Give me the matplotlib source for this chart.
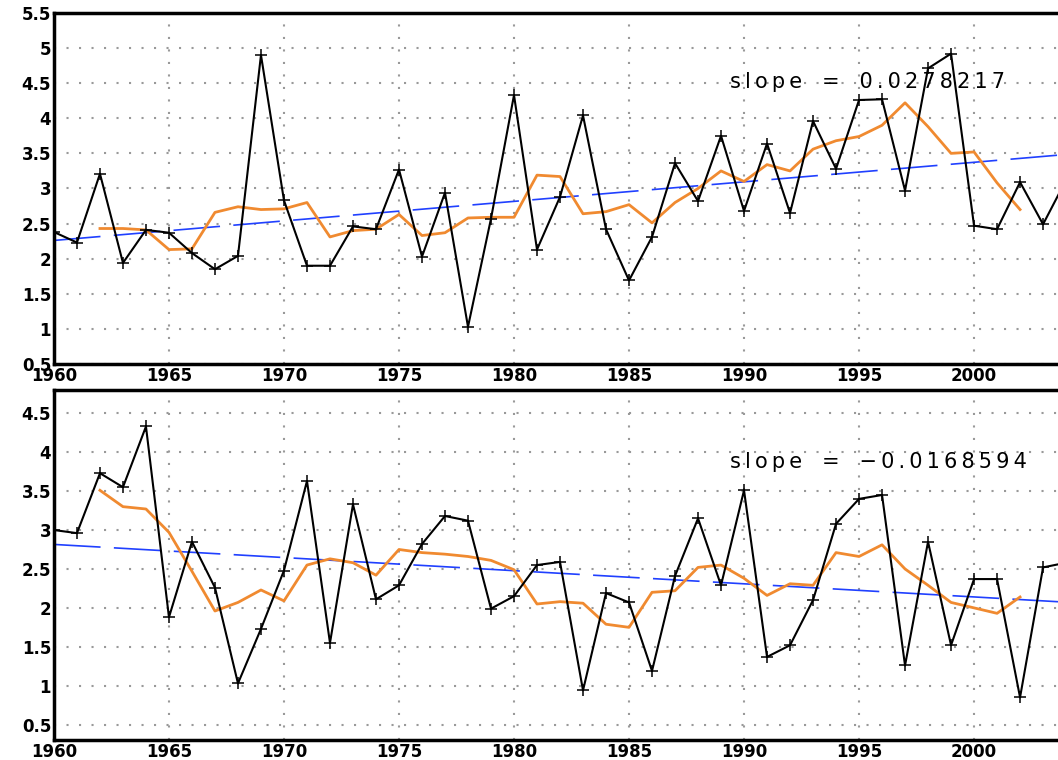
import numpy as np
import matplotlib.pyplot as plt

years = np.arange(1960, 2005)
run_years = np.arange(1962, 2003)

# upper panel
top_vals = [2.38, 2.23, 3.21, 1.94, 2.41, 2.37, 2.08, 1.85, 2.04, 4.90,
            2.83, 1.90, 1.90, 2.46, 2.42, 3.27, 2.03, 2.94, 1.03, 2.57,
            4.33, 2.13, 2.88, 4.04, 2.42, 1.69, 2.31, 3.36, 2.82, 3.75,
            2.68, 3.64, 2.65, 3.96, 3.28, 4.26, 4.27, 2.97, 4.71, 4.92,
            2.47, 2.42, 3.09, 2.49, 3.12]
top_run = [2.43, 2.43, 2.41, 2.13, 2.14, 2.66, 2.74, 2.70, 2.71, 2.80,
           2.31, 2.40, 2.42, 2.63, 2.33, 2.37, 2.58, 2.59, 2.59, 3.19,
           3.17, 2.64, 2.67, 2.77, 2.51, 2.80, 3.00, 3.25, 3.10, 3.34,
           3.25, 3.56, 3.68, 3.74, 3.90, 4.22, 3.88, 3.50, 3.52, 3.08,
           2.70]
top_slope = 0.0278217
top_icpt = 2.26  # trend value at 1960

# lower panel
bot_vals = [3.00, 2.96, 3.73, 3.55, 4.33, 1.88, 2.85, 2.26, 1.03, 1.73,
            2.48, 3.63, 1.55, 3.33, 2.11, 2.29, 2.82, 3.18, 3.12, 1.99,
            2.15, 2.55, 2.59, 0.94, 2.19, 2.07, 1.19, 2.41, 3.15, 2.29,
            3.51, 1.37, 1.52, 2.10, 3.08, 3.40, 3.45, 1.26, 2.85, 1.52,
            2.37, 2.37, 0.85, 2.52, 2.58]
bot_run = [3.51, 3.30, 3.27, 2.97, 2.47, 1.96, 2.07, 2.23, 2.09, 2.55,
           2.63, 2.58, 2.42, 2.75, 2.71, 2.69, 2.66, 2.61, 2.49, 2.05,
           2.08, 2.06, 1.79, 1.75, 2.20, 2.22, 2.52, 2.55, 2.38, 2.16,
           2.31, 2.29, 2.71, 2.66, 2.81, 2.50, 2.29, 2.07, 2.00, 1.93,
           2.14]
bot_slope = -0.0168594
bot_icpt = 2.815

fig = plt.figure(figsize=(10.58, 7.6), dpi=100)
ax1 = fig.add_axes([0.051, 0.521, 0.949, 0.462])
ax2 = fig.add_axes([0.051, 0.026, 0.949, 0.461])

xmax = 2003.65
panels = [
    (ax1, top_vals, top_run, top_icpt, top_slope, (0.5, 5.5),
     np.arange(0.5, 5.51, 0.5), 4.52),
    (ax2, bot_vals, bot_run, bot_icpt, bot_slope, (0.3, 4.8),
     np.arange(0.5, 4.51, 0.5), 3.87),
]


def spaced(s):
    # wide letter spacing like the original plotting package
    return '\u2009'.join(s)


for ax, vals, run, icpt, slope, ylim, yt, ty in panels:
    ax.plot(years, vals, color='black', lw=1.5, marker='+', ms=9, mew=1.1,
            zorder=4)
    ax.plot(run_years, run, color='#f08a30', lw=2, zorder=3)
    tx = np.array([1960, xmax])
    ax.plot(tx, icpt + slope * (tx - 1960), color='#2040ff', lw=1.2,
            dashes=(28, 8), zorder=2)
    label = spaced('slope') + '   =   ' + spaced(f'{slope:g}'.replace('-', '\u2212'))
    ax.text(1989.4, ty, label, fontsize=15, va='center', ha='left')

    ax.set_xlim(1960, xmax)
    ax.set_ylim(*ylim)
    ax.set_xticks(np.arange(1960, 2004, 5))
    ax.set_yticks(yt)
    ax.set_yticklabels([f'{v:g}' for v in yt])
    ax.grid(True, color='#999999', ls=(0, (1, 5)), lw=1.5)
    ax.tick_params(length=0, labelsize=12, pad=2)
    for lab in ax.get_xticklabels() + ax.get_yticklabels():
        lab.set_fontweight('bold')
    ax.spines['right'].set_visible(False)
    for s in ['left', 'top', 'bottom']:
        ax.spines[s].set_linewidth(2.5)

fig.savefig('out.png', dpi=100)
